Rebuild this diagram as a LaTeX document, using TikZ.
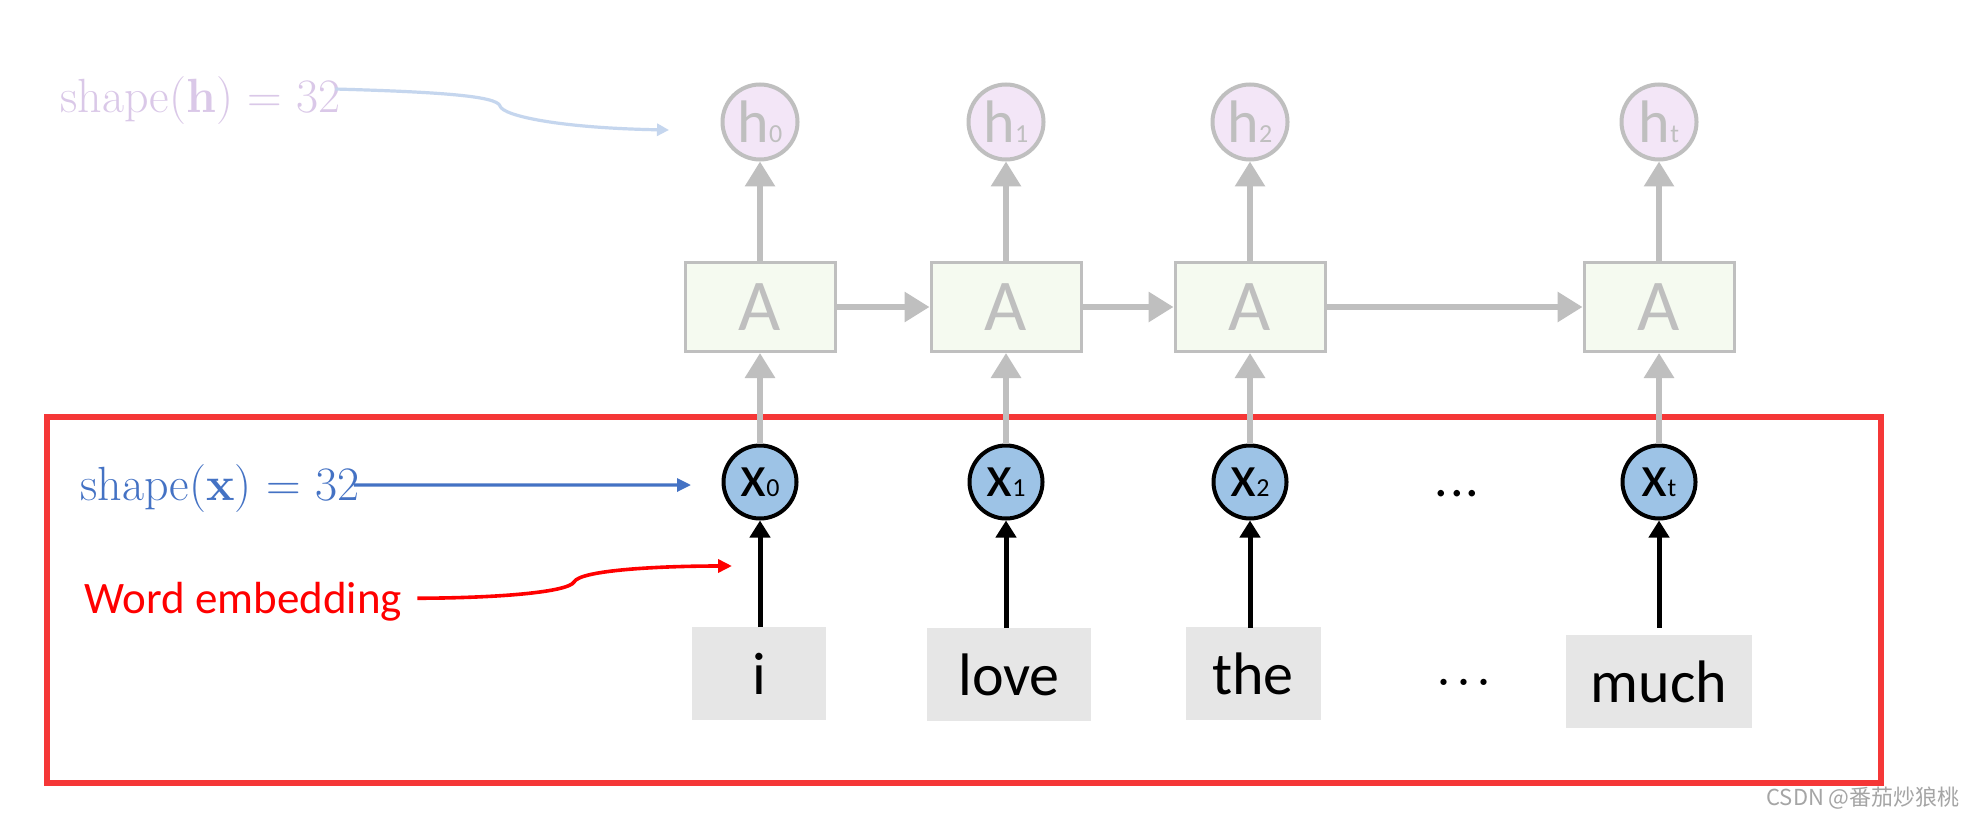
\documentclass[tikz,border=0pt]{standalone}
\usepackage{fontspec}
\usetikzlibrary{arrows.meta}
\newfontfamily\calibri{Carlito}
\newfontfamily\cjk{Noto Sans CJK SC}
\definecolor{lgray}{HTML}{BFBFBF}
\definecolor{hfill}{RGB}{243,230,247}
\definecolor{afill}{RGB}{245,250,240}
\definecolor{xfill}{HTML}{9DC3E6}
\definecolor{wfill}{RGB}{230,230,230}
\definecolor{frameC}{RGB}{245,55,55}
\definecolor{blueC}{HTML}{4472C4}
\definecolor{purpC}{RGB}{218,200,232}
\definecolor{lblueC}{RGB}{197,214,238}
\definecolor{wmC}{RGB}{165,165,165}
\newcommand{\sbs}[1]{{\fontsize{13}{13}\selectfont #1}}
\begin{document}
\begin{tikzpicture}[x=0.5pt,y=-0.5pt,
  hnode/.style={circle, draw=lgray, line width=2pt, fill=hfill, minimum size=37.5pt, inner sep=0pt, text=lgray, font=\calibri\fontsize{30}{30}\selectfont},
  anode/.style={rectangle, draw=lgray, line width=1.5pt, fill=afill, minimum width=75pt, minimum height=44.5pt, inner sep=0pt, text=lgray, font=\calibri\fontsize{36.5}{36.5}\selectfont},
  xnode/.style={circle, draw=black, line width=2pt, fill=xfill, minimum size=36.5pt, inner sep=0pt, font=\calibri\fontsize{30}{30}\selectfont},
  wnode/.style={rectangle, fill=wfill, inner sep=0pt, minimum height=46.5pt, text height=21pt, text depth=0pt, font=\calibri\fontsize{30}{30}\selectfont},
  grayarrow/.style={draw=lgray, line width=3pt, -{Triangle[length=12.5pt,width=14.5pt]}},
  blackarrow/.style={draw=black, line width=2.5pt, -{Triangle[length=8.5pt,width=10pt]}},
  framebox/.style={draw=frameC, line width=3pt},
  lbarrow/.style={draw=lblueC, line width=1.6pt, -{Triangle[length=6pt,width=6pt]}},
  bluearrow/.style={draw=blueC, line width=1.6pt, -{Triangle[length=7pt,width=6.5pt]}},
  redarrow/.style={draw=red, line width=1.8pt, -{Triangle[length=7pt,width=6.5pt]}},
]
\useasboundingbox (0,0) rectangle (1962,818);
\fill[white] (0,0) rectangle (1962,818);

% red frame
\draw[framebox] (47,417) rectangle (1881,783);

% h nodes
\node[hnode] (h0) at (760,122) {h\sbs{0}};
\node[hnode] (h1) at (1006,122) {h\sbs{1}};
\node[hnode] (h2) at (1250,122) {h\sbs{2}};
\node[hnode] (h3) at (1659,122) {h\sbs{t}};

% A nodes
\node[anode] (a0) at (760,307) {A};
\node[anode] (a1) at (1006,307) {A};
\node[anode] (a2) at (1250,307) {A};
\node[anode] (a3) at (1659,307) {A};

% x nodes
\node[xnode] (x0) at (760,482) {x\sbs{0}};
\node[xnode] (x1) at (1006,482) {x\sbs{1}};
\node[xnode] (x2) at (1250,482) {x\sbs{2}};
\node[xnode] (x3) at (1659,482) {x\sbs{t}};

% words
\node[wnode, minimum width=67pt] (w0) at (759,673) {i};
\node[wnode, minimum width=82pt] (w1) at (1009,674) {love};
\node[wnode, minimum width=67.5pt] (w2) at (1253,673.5) {the};
\node[wnode, minimum width=93pt] (w3) at (1659,681.5) {much};

% dots
\node[anchor=base, inner sep=0pt, font=\calibri\fontsize{27}{27}\selectfont] (dx) at (1457,496) {.\kern0.04em.\kern0.04em.};
\node[anchor=base, inner sep=0pt, font=\fontsize{38}{38}\selectfont] (dw) at (1464,685) {.\kern0.01em.\kern0.01em.};

% gray connectors
\foreach \i in {0,1,2,3}{
  \draw[grayarrow] (x\i.north) -- (a\i.south);
  \draw[grayarrow] (a\i.north) -- (h\i.south);
}
\draw[grayarrow] (a0.east) -- (a1.west);
\draw[grayarrow] (a1.east) -- (a2.west);
\draw[grayarrow] (a2.east) -- (a3.west);

% black connectors
\draw[blackarrow] ([yshift=-0.5pt]x0.south |- w0.north) -- (x0.south);
\draw[blackarrow] ([yshift=-0.5pt]x1.south |- w1.north) -- (x1.south);
\draw[blackarrow] ([yshift=-0.5pt]x2.south |- w2.north) -- (x2.south);
\draw[blackarrow] ([yshift=3.5pt]w3.north) -- (x3.south);

% annotation labels
\node[anchor=base west, inner sep=0pt, text=purpC, font=\fontsize{24}{24}\selectfont] (lblh) at (60,113) {shape({\bfseries h}) = 32};
\node[anchor=base west, inner sep=0pt, text=blueC, font=\fontsize{24}{24}\selectfont] (lblx) at (80,500) {shape({\bfseries x}) = 32};
\node[anchor=base west, inner sep=0pt, text=red, font=\calibri\fontsize{22.5}{22.5}\selectfont] (lblw) at (84,613) {Word embedding};

\coordinate (he) at (669,130);
\coordinate (xe) at (691,485);
\coordinate (we) at (732,566);

\draw[lbarrow] ([xshift=-3pt,yshift=6pt]lblh.east) .. controls (440,92) and (497,96) .. (500,106) .. controls (503,116) and (560,128) .. (he);
\draw[bluearrow] ([xshift=-3pt,yshift=1.5pt]lblx.east) -- (xe);
\draw[redarrow] ([xshift=7.5pt,yshift=1.5pt]lblw.east) .. controls (500,598) and (568,592) .. (574,582) .. controls (580,570) and (660,566) .. (we);

% watermark
\node[anchor=base west, inner sep=0pt, text=wmC, font=\cjk\fontsize{11}{11}\selectfont] (wm) at (1766,805) {CSDN @番茄炒狼桃};
\end{tikzpicture}
\end{document}
